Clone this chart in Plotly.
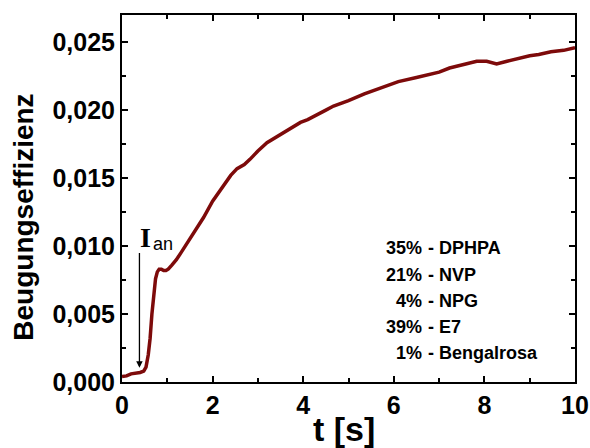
import plotly.graph_objects as go

# ---- data ----
t = [0, 0.1, 0.2, 0.3, 0.4, 0.48, 0.53, 0.58, 0.62, 0.66, 0.70, 0.74, 0.78, 0.82,
     0.87, 0.92, 0.97, 1.02, 1.1, 1.2, 1.3, 1.43, 1.6, 1.8, 2.0, 2.2, 2.4, 2.54,
     2.7, 2.83, 3.0, 3.2, 3.4, 3.57, 3.75, 3.94, 4.1, 4.31, 4.5, 4.67, 5.0, 5.35,
     5.7, 6.1, 6.5, 6.85, 7.0, 7.23, 7.5, 7.83, 8.05, 8.27, 8.5, 8.72, 9.0, 9.2,
     9.47, 9.75, 10.0]
eta = [0.0004, 0.00045, 0.0006, 0.00062, 0.0007, 0.0008, 0.0011, 0.0020, 0.0032,
       0.0050, 0.0065, 0.0076, 0.0081, 0.0083, 0.0083, 0.0082, 0.0082, 0.0083,
       0.0086, 0.0090, 0.0095, 0.0102, 0.0111, 0.0121, 0.0133, 0.0143, 0.0152,
       0.0157, 0.0160, 0.0164, 0.0170, 0.0176, 0.0180, 0.0183, 0.0187, 0.0191,
       0.0193, 0.0197, 0.0200, 0.0203, 0.0207, 0.0212, 0.0216, 0.0221, 0.0224,
       0.0227, 0.0228, 0.0231, 0.0233, 0.0236, 0.0236, 0.0234, 0.0236, 0.0238,
       0.0240, 0.0241, 0.0243, 0.0244, 0.0246]

pcts = ["35%", "21%", "4%", "39%", "1%"]
names = ["- DPHPA", "- NVP", "- NPG", "- E7", "- Bengalrosa"]

arrow_t = 0.385
arrow_top = 0.0096
arrow_tip = 0.00105

# ---- layout geometry ----
W, H = 590, 448
L, R, T, B = 122, 15, 15, 65.5
pw, ph = W - L - R, H - T - B

def px(x):
    return (x - L) / pw

def py(y):
    return (H - B - y) / ph

SANS = "Liberation Sans, Arial, sans-serif"
SERIF = "Liberation Serif, Times New Roman, serif"

fig = go.Figure()
fig.add_trace(go.Scatter(x=t, y=eta, mode="lines",
                         line=dict(color="#7d0a0a", width=3.5), showlegend=False))

axis_common = dict(showline=True, linecolor="black", linewidth=2, mirror="ticks",
                   ticks="inside", ticklen=6, tickwidth=2, tickcolor="black",
                   showgrid=False, zeroline=False,
                   tickfont=dict(family=SANS, size=25, color="black", weight="bold"))

fig.update_layout(
    width=W, height=H,
    margin=dict(l=L, r=R, t=T, b=B, autoexpand=False),
    paper_bgcolor="white", plot_bgcolor="white",
    separators=",.",
    xaxis=dict(range=[0, 10], dtick=2, tick0=0,
               minor=dict(ticks="inside", dtick=1, ticklen=4, tickwidth=2, tickcolor="black"),
               **axis_common),
    yaxis=dict(range=[0, 0.027], dtick=0.005, tick0=0, tickformat=".3f",
               minor=dict(ticks="inside", dtick=0.0025, ticklen=4, tickwidth=2, tickcolor="black"),
               **axis_common),
)

ann = []
# axis titles
ann.append(dict(text="t [s]", xref="paper", yref="paper", x=px(344), y=py(430),
                xanchor="center", yanchor="middle", showarrow=False,
                font=dict(family=SANS, size=34, color="black", weight="bold")))
ann.append(dict(text="Beugungseffizienz", xref="paper", yref="paper", x=px(24), y=py(218),
                xanchor="center", yanchor="middle", showarrow=False, textangle=-90,
                font=dict(family=SANS, size=28, color="black", weight="bold")))
# arrow
ann.append(dict(x=arrow_t, y=arrow_tip, ax=arrow_t, ay=arrow_top, xref="x", yref="y",
                axref="x", ayref="y", showarrow=True, arrowhead=2, arrowsize=1,
                arrowwidth=1.3, arrowcolor="black", text=""))
# I_an label
ann.append(dict(text="I", xref="paper", yref="paper", x=px(145), y=py(238),
                xanchor="center", yanchor="middle", showarrow=False,
                font=dict(family=SERIF, size=28, color="black", weight="bold")))
ann.append(dict(text="an", xref="paper", yref="paper", x=px(151), y=py(244),
                xanchor="left", yanchor="middle", showarrow=False,
                font=dict(family=SANS, size=18, color="black")))
# composition text
ys = [248, 275, 301, 327, 353]
for p, n, yy in zip(pcts, names, ys):
    ann.append(dict(text=p, xref="paper", yref="paper", x=px(424), y=py(yy),
                    xanchor="right", yanchor="middle", showarrow=False,
                    font=dict(family=SANS, size=18, color="black", weight="bold")))
    ann.append(dict(text=n, xref="paper", yref="paper", x=px(426), y=py(yy),
                    xanchor="left", yanchor="middle", showarrow=False,
                    font=dict(family=SANS, size=18, color="black", weight="bold")))
fig.update_layout(annotations=ann)

fig.write_html("out.html")
